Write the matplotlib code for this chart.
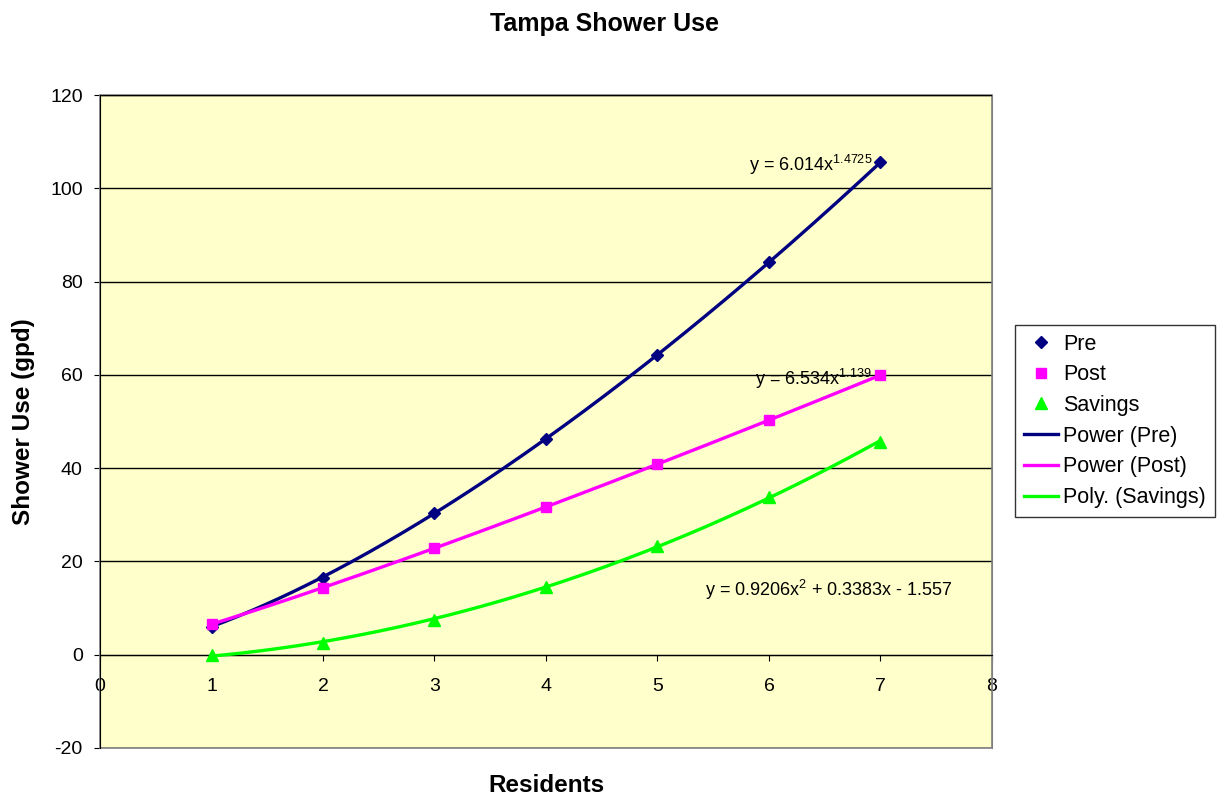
import numpy as np
import matplotlib
matplotlib.use('Agg')
import matplotlib.pyplot as plt
from matplotlib.patches import Rectangle

# --- Dados ---
residents = [1, 2, 3, 4, 5, 6, 7]
pre = [6.0, 16.5, 30.4, 46.3, 64.3, 84.2, 105.7]
post = [6.6, 14.4, 22.9, 31.7, 40.9, 50.4, 60.0]
savings = [-0.1, 2.5, 7.5, 14.6, 23.4, 33.9, 45.7]

# coeficientes das linhas de tendência (mostrados no gráfico)
pre_fit = (6.014, 1.4725)
post_fit = (6.534, 1.139)
sav_fit = (0.9206, 0.3383, -1.557)

plt.rcParams['font.family'] = ['Liberation Sans', 'DejaVu Sans']
plt.rcParams['mathtext.fontset'] = 'custom'
plt.rcParams['mathtext.rm'] = 'Liberation Sans'
plt.rcParams['axes.unicode_minus'] = False

fig = plt.figure(figsize=(12.17, 7.97), dpi=100)
ax = fig.add_axes([100 / 1217, 1 - 748 / 797, 892 / 1217, 653 / 797])
ax.set_facecolor('#FFFFCC')

xs = np.linspace(1, 7, 200)
navy, mag, grn = '#000080', '#FF00FF', '#00FF00'

ax.plot(residents, pre, 'D', color=navy, ms=6.5, label='Pre', zorder=4)
ax.plot(residents, post, 's', color=mag, ms=7.5, label='Post', zorder=4)
ax.plot(residents, savings, '^', color=grn, ms=8.5, label='Savings', zorder=4)
ax.plot(xs, pre_fit[0] * xs ** pre_fit[1], color=navy, lw=2.4, label='Power (Pre)', zorder=3)
ax.plot(xs, post_fit[0] * xs ** post_fit[1], color=mag, lw=2.4, label='Power (Post)', zorder=3)
ax.plot(xs, np.polyval(sav_fit, xs), color=grn, lw=2.4, label='Poly. (Savings)', zorder=3)

ax.text(5.82, 105.0, r'y = 6.014x$^{1.4725}$', fontsize=13, va='center')
ax.text(5.87, 59.2, r'y = 6.534x$^{1.139}$', fontsize=13, va='center')
ax.text(5.43, 13.9, r'y = 0.9206x$^{2}$ + 0.3383x - 1.557', fontsize=13, va='center')

ax.set_xlim(0, 8)
ax.set_ylim(-20, 120)
ax.set_xticks(range(0, 9))
ax.set_yticks(range(-20, 121, 20))
ax.yaxis.grid(True, color='black', lw=1.0)
ax.set_axisbelow(True)

ax.spines['bottom'].set_position(('data', 0))
ax.spines['top'].set_visible(False)
ax.spines['right'].set_color('#808080')
ax.spines['left'].set_color('black')
ax.spines['left'].set_zorder(5)
# borda cinza da área do gráfico
ax.add_patch(Rectangle((0, 0), 1, 1, transform=ax.transAxes, fill=False,
                       edgecolor='#808080', lw=1.2, clip_on=False, zorder=1))
ax.axhline(120, color='black', lw=1.0, zorder=2)
ax.tick_params(axis='both', direction='out', length=4.5, labelsize=14, color='black')
ax.tick_params(axis='x', pad=12)
ax.tick_params(axis='y', pad=8)

ax.set_ylabel('Shower Use (gpd)', fontsize=17.5, fontweight='bold', labelpad=11)
fig.text(546 / 1217, 1 - 792 / 797, 'Residents', fontsize=17.5, fontweight='bold',
         ha='center', va='baseline')
fig.text(604 / 1217, 1 - 24 / 797, 'Tampa Shower Use', fontsize=18, fontweight='bold',
         ha='center', va='center')

leg = ax.legend(loc='upper left', bbox_to_anchor=(1015 / 1217, 1 - 325 / 797),
                bbox_transform=fig.transFigure, fontsize=15.5, frameon=True,
                fancybox=False, edgecolor='black', handlelength=1.6,
                handletextpad=0.25, borderpad=0.4, labelspacing=0.45,
                borderaxespad=0)
leg.get_frame().set_linewidth(1.0)

plt.savefig('out.png', dpi=100)
